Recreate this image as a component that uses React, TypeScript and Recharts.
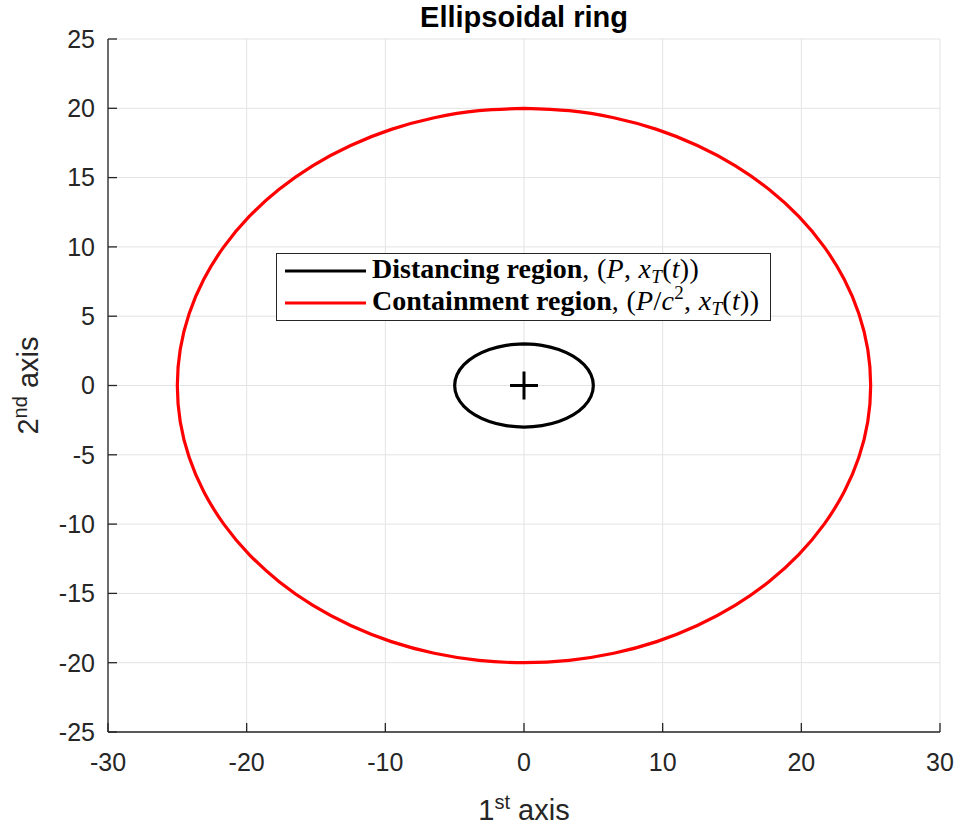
import { CartesianGrid, Label, Scatter, ScatterChart, XAxis, YAxis } from 'recharts';

// Containment region outline (P/c^2), traced counter-clockwise from the top (0, 20)
const containmentX = [
  0, -3.26, -6.47, -9.57, -12.5, -15.22, -17.68, -19.83, -21.65, -23.1, -24.15, -24.79, -25,
  -24.79, -24.15, -23.1, -21.65, -19.83, -17.68, -15.22, -12.5, -9.57, -6.47, -3.26, 0,
  3.26, 6.47, 9.57, 12.5, 15.22, 17.68, 19.83, 21.65, 23.1, 24.15, 24.79, 25,
  24.79, 24.15, 23.1, 21.65, 19.83, 17.68, 15.22, 12.5, 9.57, 6.47, 3.26, 0,
];
const containmentY = [
  20, 19.83, 19.32, 18.48, 17.32, 15.87, 14.14, 12.18, 10, 7.65, 5.18, 2.61, 0,
  -2.61, -5.18, -7.65, -10, -12.18, -14.14, -15.87, -17.32, -18.48, -19.32, -19.83, -20,
  -19.83, -19.32, -18.48, -17.32, -15.87, -14.14, -12.18, -10, -7.65, -5.18, -2.61, 0,
  2.61, 5.18, 7.65, 10, 12.18, 14.14, 15.87, 17.32, 18.48, 19.32, 19.83, 20,
];

// Distancing region outline (P), same direction
const distancingX = [
  0, -1.29, -2.5, -3.54, -4.33, -4.83, -5, -4.83, -4.33, -3.54, -2.5, -1.29, 0,
  1.29, 2.5, 3.54, 4.33, 4.83, 5, 4.83, 4.33, 3.54, 2.5, 1.29, 0,
];
const distancingY = [
  3, 2.9, 2.6, 2.12, 1.5, 0.78, 0, -0.78, -1.5, -2.12, -2.6, -2.9, -3,
  -2.9, -2.6, -2.12, -1.5, -0.78, 0, 0.78, 1.5, 2.12, 2.6, 2.9, 3,
];

// target position x_T(t)
const centerX = [0];
const centerY = [0];

const xTicks = [-30, -20, -10, 0, 10, 20, 30];
const yTicks = [-25, -20, -15, -10, -5, 0, 5, 10, 15, 20, 25];

const zip = (xs: number[], ys: number[]) => xs.map((x, i) => ({ x, y: ys[i] }));

const containment = zip(containmentX, containmentY);
const distancing = zip(distancingX, distancingY);
const center = zip(centerX, centerY);

const AXIS = '#262626';
const SANS = '"Liberation Sans", Arial, Helvetica, sans-serif';
const SERIF = '"Liberation Serif", "Times New Roman", serif';

const noMarker = () => <g />;

const PlusMarker = (props: any) => {
  const { cx, cy } = props;
  const r = 14;
  return (
    <g stroke="#000" strokeWidth={3}>
      <line x1={cx - r} y1={cy} x2={cx + r} y2={cy} />
      <line x1={cx} y1={cy - r} x2={cx} y2={cy + r} />
    </g>
  );
};

const XTitle = (props: any) => {
  const vb = props.viewBox ?? { x: 108, y: 732, width: 832, height: 97 };
  return (
    <text
      x={vb.x + vb.width / 2}
      y={vb.y + 88}
      textAnchor="middle"
      fill={AXIS}
      fontFamily={SANS}
      fontSize={29}
    >
      1<tspan fontSize={20} dy={-11}>st</tspan>
      <tspan dy={11}> axis</tspan>
    </text>
  );
};

const YTitle = (props: any) => {
  const vb = props.viewBox ?? { x: 0, y: 39, width: 108, height: 693 };
  const cx = vb.x + 38;
  const cy = vb.y + vb.height / 2;
  return (
    <text
      transform={`translate(${cx},${cy}) rotate(-90)`}
      textAnchor="middle"
      fill={AXIS}
      fontFamily={SANS}
      fontSize={29}
    >
      2<tspan fontSize={20} dy={-11}>nd</tspan>
      <tspan dy={11}> axis</tspan>
    </text>
  );
};

const MATH = { letterSpacing: 0.3 };

function LegendBox() {
  return (
    <svg
      width={495}
      height={68}
      style={{ position: 'absolute', left: 276, top: 253 }}
    >
      <rect x={0.5} y={0.5} width={494} height={67} fill="#fff" stroke={AXIS} strokeWidth={1} />
      <line x1={9} y1={18} x2={90} y2={18} stroke="#000" strokeWidth={3} />
      <line x1={9} y1={50} x2={90} y2={50} stroke="#ff0000" strokeWidth={3} />
      <text x={96} y={25} fontFamily={SERIF} fontSize={28} fill="#000">
        <tspan fontWeight="bold">Distancing region</tspan>
        <tspan style={MATH}>, (</tspan>
        <tspan style={MATH} fontStyle="italic">P</tspan>
        <tspan style={MATH}>, </tspan>
        <tspan style={MATH} fontStyle="italic">x</tspan>
        <tspan style={MATH} fontStyle="italic" fontSize={19} dy={5}>T</tspan>
        <tspan style={MATH} dy={-5}>(</tspan>
        <tspan style={MATH} fontStyle="italic">t</tspan>
        <tspan style={MATH}>))</tspan>
      </text>
      <text x={96} y={57} fontFamily={SERIF} fontSize={28} fill="#000">
        <tspan fontWeight="bold">Containment region</tspan>
        <tspan style={MATH}>, (</tspan>
        <tspan style={MATH} fontStyle="italic">P</tspan>
        <tspan style={MATH}>/</tspan>
        <tspan style={MATH} fontStyle="italic">c</tspan>
        <tspan style={MATH} fontSize={19} dy={-11}>2</tspan>
        <tspan style={MATH} dy={11}>, </tspan>
        <tspan style={MATH} fontStyle="italic">x</tspan>
        <tspan style={MATH} fontStyle="italic" fontSize={19} dy={5}>T</tspan>
        <tspan style={MATH} dy={-5}>(</tspan>
        <tspan style={MATH} fontStyle="italic">t</tspan>
        <tspan style={MATH}>))</tspan>
      </text>
    </svg>
  );
}

export default function App() {
  return (
    <div style={{ position: 'absolute', left: 0, top: 0, width: 959, height: 829, background: '#fff' }}>
      <div
        style={{
          position: 'absolute',
          left: 0,
          top: 1,
          width: 1048,
          textAlign: 'center',
          fontFamily: SANS,
          fontWeight: 'bold',
          fontSize: 29,
          color: '#000',
          whiteSpace: 'nowrap',
        }}
      >
        Ellipsoidal ring
      </div>
      <ScatterChart width={959} height={829} margin={{ top: 39, right: 19, bottom: 0, left: 0 }}>
        <CartesianGrid stroke="#e3e3e3" strokeWidth={1} />
        <XAxis
          type="number"
          dataKey="x"
          domain={[-30, 30]}
          ticks={xTicks}
          interval={0}
          height={97}
          allowDataOverflow
          axisLine={{ stroke: AXIS, strokeWidth: 1.3 }}
          tickLine={{ stroke: AXIS, strokeWidth: 1.3 }}
          tickSize={-9}
          tickMargin={30}
          tick={{ fill: AXIS, fontSize: 25, fontFamily: SANS }}
        >
          <Label content={XTitle} />
        </XAxis>
        <YAxis
          type="number"
          dataKey="y"
          domain={[-25, 25]}
          ticks={yTicks}
          interval={0}
          width={108}
          allowDataOverflow
          axisLine={{ stroke: AXIS, strokeWidth: 1.3 }}
          tickLine={{ stroke: AXIS, strokeWidth: 1.3 }}
          tickSize={-9}
          tickMargin={22}
          tick={{ fill: AXIS, fontSize: 25, fontFamily: SANS }}
        >
          <Label content={YTitle} />
        </YAxis>
        <Scatter
          data={distancing}
          shape={noMarker}
          lineJointType="natural"
          line={{ stroke: '#000', strokeWidth: 3.2, strokeLinejoin: 'round' }}
          isAnimationActive={false}
        />
        <Scatter
          data={containment}
          shape={noMarker}
          lineJointType="natural"
          line={{ stroke: '#ff0000', strokeWidth: 3.2, strokeLinejoin: 'round' }}
          isAnimationActive={false}
        />
        <Scatter data={center} shape={PlusMarker} isAnimationActive={false} />
      </ScatterChart>
      <LegendBox />
    </div>
  );
}
